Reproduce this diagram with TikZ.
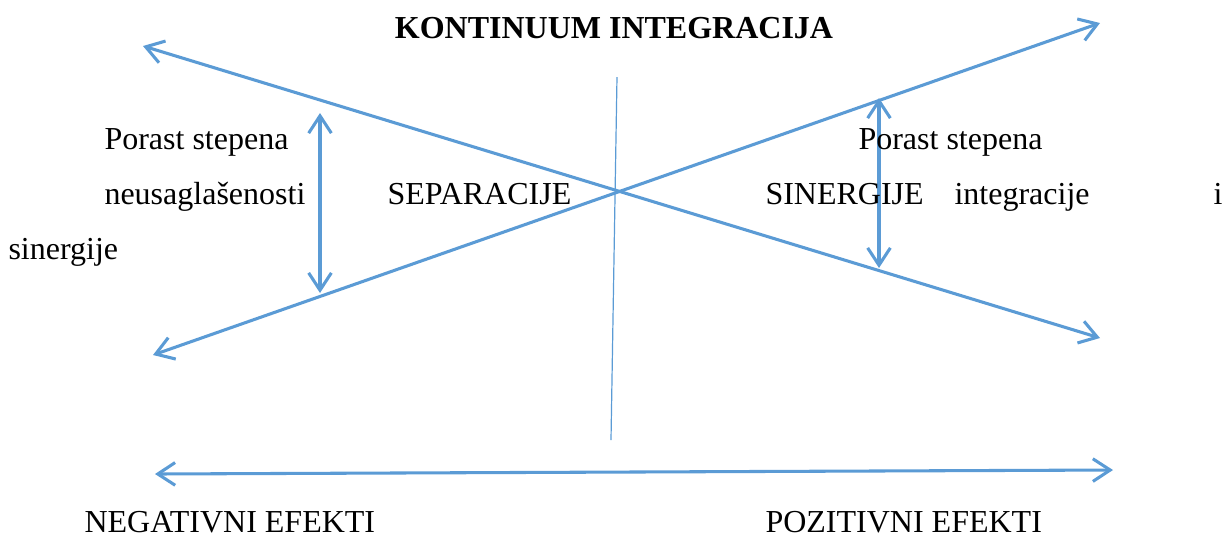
\documentclass[tikz,border=0pt]{standalone}
\usepackage{fontspec}
\setmainfont{Liberation Serif}
\usetikzlibrary{arrows.meta}
\definecolor{axisblue}{RGB}{91,155,213}
\tikzset{
  dblarrow/.style={draw=axisblue, line width=1.15pt,
    {Straight Barb[length=6.5pt,width=8.5pt]}-{Straight Barb[length=6.5pt,width=8.5pt]}},
  divider/.style={draw=axisblue, line width=0.45pt},
  label/.style={anchor=base west, inner sep=0pt, font=\fontsize{12}{14}\selectfont},
  heading/.style={anchor=base, inner sep=0pt, font=\fontsize{12}{14}\selectfont\bfseries}
}
\begin{document}
\begin{tikzpicture}[x=0.375pt, y=-0.375pt]
\useasboundingbox (0,0) rectangle (1227,535);

% end points of the crossing axes
\coordinate (sepTop) at (143,46);
\coordinate (sepBot) at (1100,338);
\coordinate (synBot) at (153,355);
\coordinate (synTop) at (1100,23);
\coordinate (midTop) at (617,77);
\coordinate (midBot) at (611,440);
\coordinate (lTop) at (320,113);
\coordinate (lBot) at (320,293);
\coordinate (rTop) at (879,98);
\coordinate (rBot) at (879,268);
\coordinate (effL) at (155,474);
\coordinate (effR) at (1113,470);

\draw[dblarrow] (sepTop) -- (sepBot);
\draw[dblarrow] (synBot) -- (synTop);
\draw[divider] (midTop) -- (midBot);
\draw[dblarrow] (lTop) -- (lBot);
\draw[dblarrow] (rTop) -- (rBot);
\draw[dblarrow] (effL) -- (effR);

% texts
\node[heading] (title) at (614,38) {KONTINUUM INTEGRACIJA};
\node[label] (porL) at (104,149) {Porast stepena};
\node[label] (neus) at (104,204) {neusaglašenosti};
\node[label] (sep) at (387,204) {SEPARACIJE};
\node[label] (syn) at (765,204) {SINERGIJE};
\node[label] (integ) at (954,204) {integracije};
\node[label] (iconj) at (1213,204) {i};
\node[label] (sin) at (8,259) {sinergije};
\node[label, text depth=0pt] (neg) at (84,532) {NEGATIVNI EFEKTI};
\node[label, text depth=0pt] (poz) at (765,532) {POZITIVNI EFEKTI};
\node[label] (porR) at (858,149) {Porast stepena};
\end{tikzpicture}
\end{document}
